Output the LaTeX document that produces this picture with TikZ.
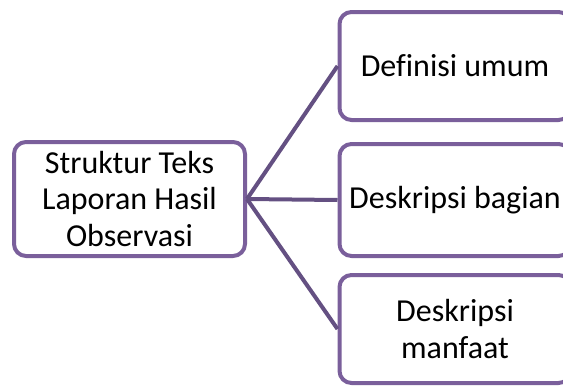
\documentclass[tikz,border=0pt]{standalone}
\usepackage{fontspec}
\setmainfont{Carlito}[Ligatures=NoCommon]
\definecolor{boxline}{RGB}{122,95,155}
\definecolor{linkline}{RGB}{100,80,130}
\begin{document}
\begin{tikzpicture}[x=1pt,y=-1pt,line join=round,
  item/.style={draw=boxline,line width=4pt,rounded corners=12pt,fill=white,
    minimum width=231pt,align=center,inner sep=0pt,
    font=\fontsize{32}{36.5}\selectfont},
  link/.style={draw=linkline,line width=4pt}]
\useasboundingbox (0,0) rectangle (563,389);
\clip (0,0) rectangle (563,389);

\node[item,minimum height=114pt] (root) at (129.5,199) {Struktur Teks\\Laporan Hasil\\Observasi};
\node[item,minimum height=108pt] (def) at (455,66) {Definisi umum};
\node[item,minimum height=112pt] (bag) at (455,200) {Deskripsi bagian};
\node[item,minimum height=108pt] (man) at (455,329) {Deskripsi\\manfaat};

\draw[link] (root.east) -- (def.west);
\draw[link] (root.east) -- (bag.west);
\draw[link] (root.east) -- (man.west);
\end{tikzpicture}
\end{document}
